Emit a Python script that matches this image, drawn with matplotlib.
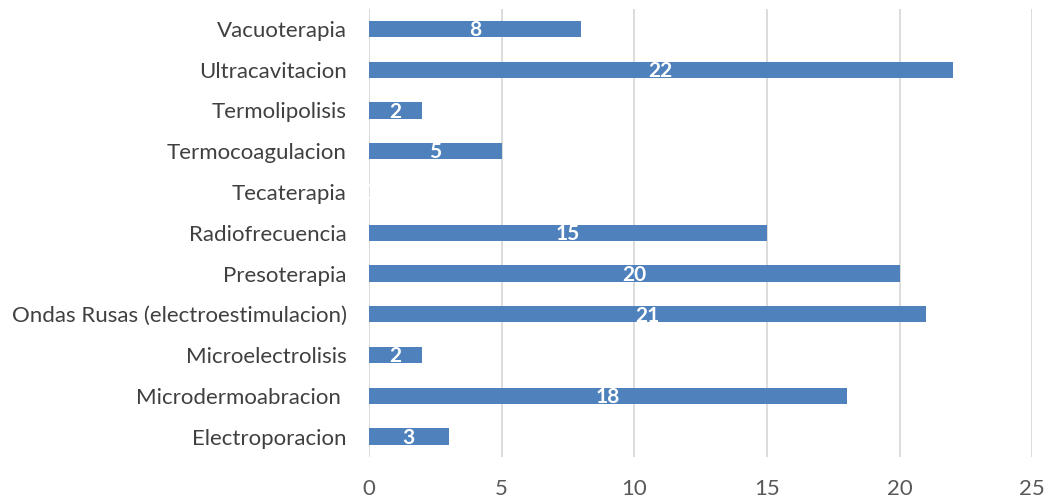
import matplotlib.pyplot as plt

# treatments, bottom to top as drawn on the y axis
tratamientos = ["Electroporacion", "Microdermoabracion ", "Microelectrolisis",
                "Ondas Rusas (electroestimulacion)", "Presoterapia", "Radiofrecuencia",
                "Tecaterapia", "Termocoagulacion", "Termolipolisis", "Ultracavitacion",
                "Vacuoterapia"]
cantidad = [3, 18, 2, 21, 20, 15, 0, 5, 2, 22, 8]
xticks = [0, 5, 10, 15, 20, 25]

plt.rcParams['font.family'] = ['Lato', 'DejaVu Sans']

fig = plt.figure(figsize=(10.48, 5.0), dpi=100)
ax = fig.add_axes([0.352, 0.086, 0.633, 0.897])

y = range(len(tratamientos))
bars = ax.barh(y, cantidad, height=0.4, color="#4F81BD", zorder=3)
for b, v in zip(bars, cantidad):
    ax.text(v / 2, b.get_y() + b.get_height() / 2 - 0.03, str(v), ha="center", va="center",
            color="white", fontsize=15, fontweight="bold", zorder=4)

ax.set_yticks(list(y))
ax.set_yticklabels(tratamientos, fontsize=16, color="#404040")
ax.set_xticks(xticks)
ax.set_xticklabels([str(t) for t in xticks], fontsize=16, color="#595959")
ax.set_xlim(0, 25)
ax.set_ylim(-0.5, len(tratamientos) - 0.5)
ax.grid(axis="x", color="#d9d9d9", linewidth=1.3, zorder=0)
ax.tick_params(axis="y", length=0, pad=16)
ax.tick_params(axis="x", length=0, pad=16)
for s in ax.spines.values():
    s.set_visible(False)

fig.savefig("out.png", dpi=100)
